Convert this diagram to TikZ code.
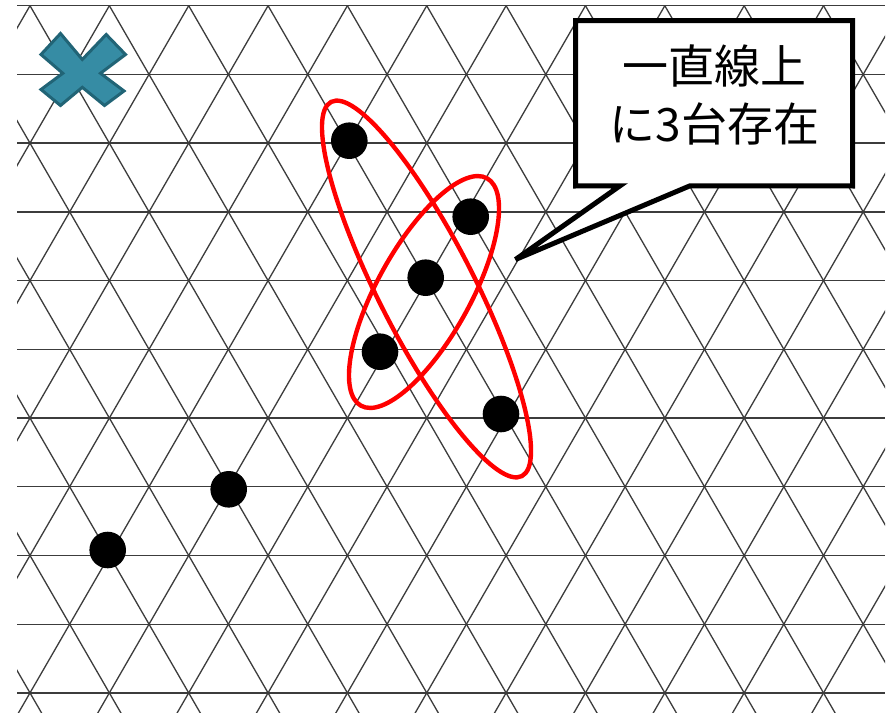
\documentclass[tikz,border=0pt]{standalone}
\usepackage{fontspec}
\newfontfamily\jpfont{Noto Sans CJK JP}
\usetikzlibrary{shapes.geometric}
\definecolor{gridc}{RGB}{60,60,60}
\definecolor{crossfill}{RGB}{54,140,164}
\definecolor{crossedge}{RGB}{33,100,118}
\definecolor{ovalred}{RGB}{255,0,0}
\begin{document}
\begin{tikzpicture}[x=1pt,y=-1pt,
  gridline/.style={draw=gridc, line width=1.3pt},
  dot/.style={circle, fill=black, minimum size=36.6pt, inner sep=0pt},
  oval/.style={ellipse, draw=ovalred, line width=4.4pt, inner sep=0pt},
  calloutframe/.style={draw=black, fill=white, line width=5pt, line join=miter, miter limit=4},
  crossmark/.style={fill=crossfill, draw=crossedge, line width=3pt, line join=miter},
  calltext/.style={font=\jpfont\fontsize{46}{58}\selectfont, align=center, inner sep=0pt}]
\useasboundingbox (0,0) rectangle (893,714);
\fill[white] (0,0) rectangle (893,714);
% triangular grid
\begin{scope}
\clip (17,4.5) rectangle (885,712.5);
\foreach \k in {0,...,10} \draw[gridline] (17,5.7+68.72*\k) -- (885,5.7+68.72*\k);
\foreach \k in {-6,...,17} {
  \draw[gridline] (30+79.35*\k,5.7) -- ++(410.5,711);
  \draw[gridline] (30+79.35*\k,5.7) -- ++(-410.5,711);
}
\end{scope}
% cross mark
\draw[crossmark] (41,54.5) -- (60.5,33.5) -- (82.3,59.5) -- (106.2,34.5) -- (125.5,54.5)
  -- (100.5,73.3) -- (124,91) -- (104.5,105.5) -- (82.3,87.3) -- (60.5,105.5)
  -- (41,89.5) -- (62.8,73.3) -- cycle;
% ovals
\node[oval, minimum width=420pt, minimum height=96pt, rotate=-63] (e1) at (426.5,289) {};
\node[oval, minimum width=260pt, minimum height=93pt, rotate=61] (e2) at (424,292) {};
% dots
\node[dot] (d1) at (349.3,140.7) {};
\node[dot] (d2) at (470.7,216.7) {};
\node[dot] (d3) at (425.7,277.7) {};
\node[dot] (d4) at (380,351.7) {};
\node[dot] (d5) at (501,414) {};
\node[dot] (d6) at (228.7,489.3) {};
\node[dot] (d7) at (107.7,550) {};
% callout
\node[minimum width=276.7pt, minimum height=165pt, inner sep=0pt] (box) at (714.15,103.3) {};
\coordinate (pl) at (620,185.8);
\coordinate (pr) at (690,185.8);
\coordinate (tip) at (515.5,259.5);
\draw[calloutframe] (box.north west) -- (box.north east) -- (box.south east) -- (pr) -- (tip) -- (pl) -- (box.south west) -- cycle;
\node[calltext] (txt) at (714.5,95) {一直線上\\に3台存在};
\end{tikzpicture}
\end{document}
